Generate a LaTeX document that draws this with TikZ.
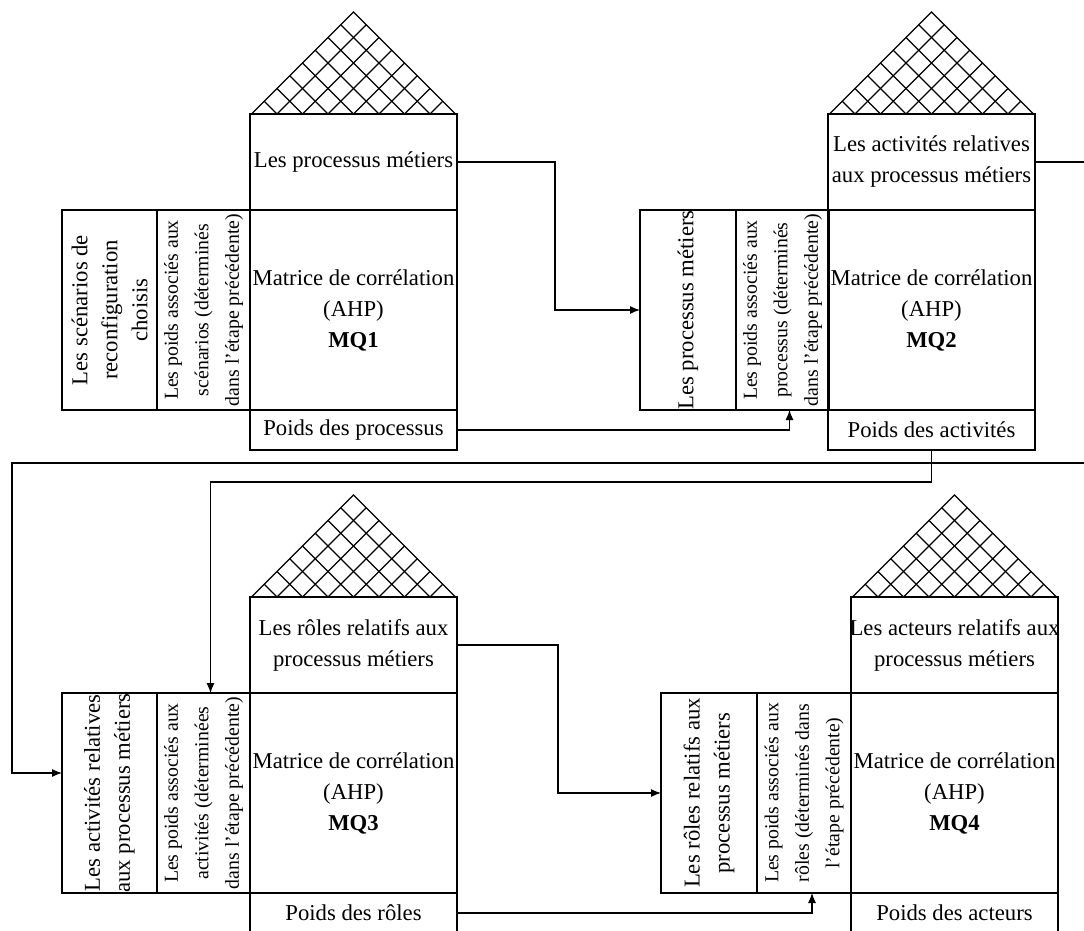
\documentclass[tikz,border=0pt]{standalone}
\usepackage{fontspec}
\setmainfont{Liberation Serif}
\usetikzlibrary{arrows.meta}

\begin{document}
\begin{tikzpicture}[>={Latex[length=10pt,width=8pt]}, x=1pt, y=-1pt, line width=1.1pt,
  box/.style={draw, inner sep=0pt, outer sep=0pt, align=center, font=\fontsize{22.7}{31}\selectfont},
  topbox/.style={box, minimum width=207pt, minimum height=96pt},
  matbox/.style={box, minimum width=207pt, minimum height=200pt},
  poidsbox/.style={box, minimum width=207pt, minimum height=40pt},
  sidebox/.style={box, rotate=90, minimum width=200pt, minimum height=95pt, font=\fontsize{22.7}{30}\selectfont},
  wbox/.style={sidebox, minimum height=93pt, font=\fontsize{19.8}{30.5}\selectfont}]
\useasboundingbox (0,0) rectangle (1084,930);

% Toits
\foreach \ax/\ay in {353.5/12, 931.5/12, 353.5/495, 954.5/495} {
  \draw (\ax-102,\ay+102) -- (\ax,\ay) -- (\ax+102,\ay+102);
  \foreach \k in {1,...,7} {
    \draw (\ax-102+\k*25.5,\ay+102) -- (\ax+\k*12.75,\ay+\k*12.75);
    \draw (\ax+102-\k*25.5,\ay+102) -- (\ax-\k*12.75,\ay+\k*12.75);
  }
}

% MQ1
\node[topbox] (top1) at (353.5,162) {Les processus métiers};
\node[matbox] (mat1) at (353.5,310) {Matrice de corrélation\\(AHP)\\\textbf{MQ1}};
\node[poidsbox] (poids1) at (353.5,430) {Poids des processus};
\node[sidebox] (lhs1) at (109.5,310) {Les scénarios de\\reconfiguration\\choisis};
\node[wbox] (pw1) at (203.5,310) {Les poids associés aux\\scénarios (déterminés\\dans l'étape précédente)};

% MQ2
\node[topbox] (top2) at (931.5,162) {Les activités relatives\\aux processus métiers};
\node[matbox] (mat2) at (931.5,310) {Matrice de corrélation\\(AHP)\\\textbf{MQ2}};
\node[poidsbox] (poids2) at (931.5,430) {Poids des activités};
\node[sidebox, minimum height=96pt] (lhs2) at (688,310) {Les processus métiers};
\node[wbox] (pw2) at (782.5,310) {Les poids associés aux\\processus (déterminés\\dans l'étape précédente)};

% MQ3
\node[topbox] (top3) at (353.5,645) {Les rôles relatifs aux\\processus métiers};
\node[matbox] (mat3) at (353.5,793) {Matrice de corrélation\\(AHP)\\\textbf{MQ3}};
\node[poidsbox] (poids3) at (353.5,913) {Poids des rôles};
\node[sidebox] (lhs3) at (109.5,793) {Les activités relatives\\aux processus métiers};
\node[wbox] (pw3) at (203.5,793) {Les poids associés aux\\activités (déterminées\\dans l'étape précédente)};

% MQ4
\node[topbox] (top4) at (954.5,645) {\makebox[0pt]{Les acteurs relatifs aux}\\processus métiers};
\node[matbox] (mat4) at (954.5,793) {Matrice de corrélation\\(AHP)\\\textbf{MQ4}};
\node[poidsbox] (poids4) at (954.5,913) {Poids des acteurs};
\node[sidebox, minimum height=96pt] (lhs4) at (709,793) {Les rôles relatifs aux\\processus métiers};
\node[wbox, minimum height=94pt] (pw4) at (804,793) {Les poids associés aux\\rôles (déterminés dans\\l'étape précédente)};

% Liaisons
\coordinate (turnR) at (1115,463);
\coordinate (turnL) at (12,463);
\draw[->] (top1.east) -- ++(98,0) |- (lhs2.north);
\draw[->] (poids1.east) -| ([xshift=7pt]pw2.west);
\draw[->] (top2.east) -| (turnR) -- (turnL) |- ([yshift=20pt]lhs3.north);
\draw[->] (poids2.south) -- ++(0,32) -| ([xshift=7pt]pw3.east);
\draw[->] (top3.east) -- ++(101,0) |- (lhs4.north);
\draw[->] (poids3.east) -| ([xshift=8pt]pw4.west);
\end{tikzpicture}
\end{document}
